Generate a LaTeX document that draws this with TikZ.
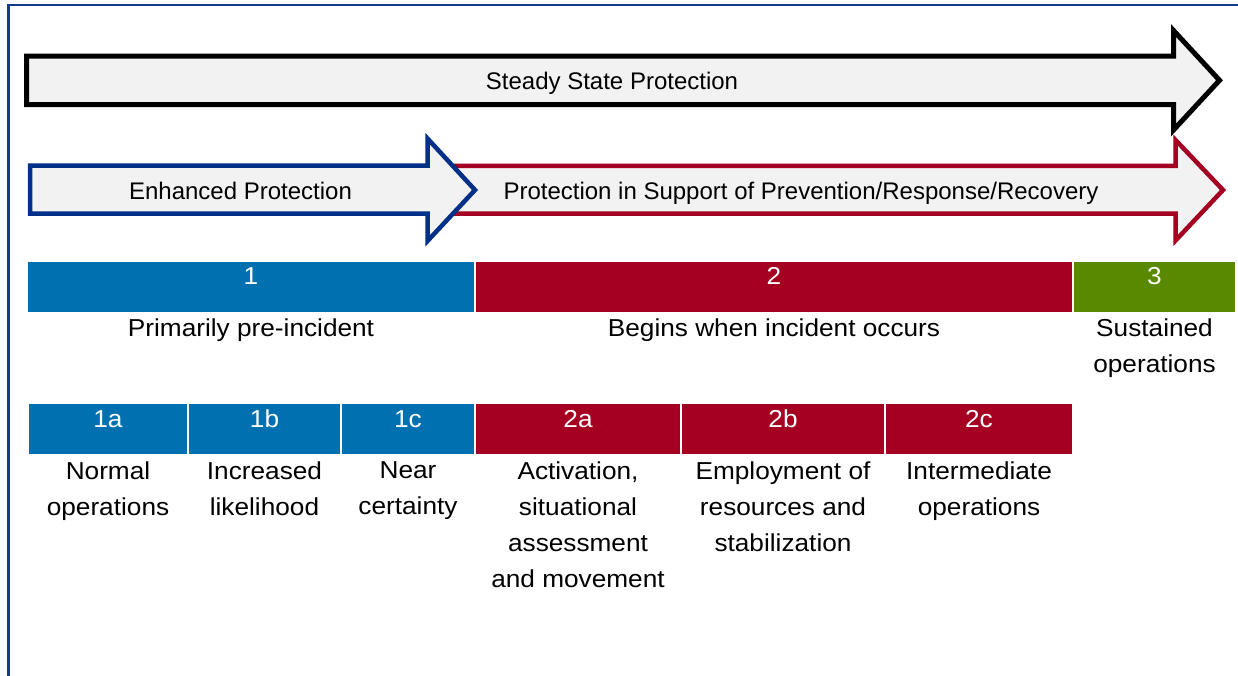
\documentclass[tikz,border=0pt]{standalone}
\usepackage{fontspec}
\setmainfont{Liberation Sans}
\newfontfamily\lblfont[FakeStretch=1.07]{Liberation Sans}
\definecolor{cblue}{RGB}{0,112,176}
\definecolor{cred}{RGB}{165,0,33}
\definecolor{cgreen}{RGB}{88,137,0}
\definecolor{cnavy}{RGB}{0,48,135}
\definecolor{cborder}{RGB}{16,58,140}
\definecolor{cfill}{RGB}{242,242,242}
\tikzset{
  arrowshape/.style={fill=cfill, line join=miter, miter limit=10},
  bar/.style={anchor=north west, inner sep=0pt, minimum height=50pt},
  numtxt/.style={text=white, anchor=base, inner sep=0pt, font=\lblfont\fontsize{24.5}{36}\selectfont},
  lbl/.style={anchor=north, inner sep=0pt, align=center, font=\lblfont\fontsize{24.5}{36}\selectfont},
  arrtxt/.style={anchor=base, inner sep=0pt, font=\fontsize{24}{30}\selectfont},
}
\begin{document}
\begin{tikzpicture}[x=1pt,y=-1pt]
\useasboundingbox (0,0) rectangle (1238,675);
% frame
\draw[cborder, line width=2.6pt] (8.7,676) -- (8.7,5) -- (1239,5);
% steady state arrow
\draw[arrowshape, line width=5pt, draw=black]
  (26.5,56) -- (1173.5,56) -- (1173.5,30.5) -- (1219.5,80.3) -- (1173.5,130) -- (1173.5,104.5) -- (26.5,104.5) -- cycle;
\node[arrtxt] (ss) at (612,89) {Steady State Protection};
% red arrow
\draw[arrowshape, line width=4.5pt, draw=cred]
  (440,165.8) -- (1175.5,165.8) -- (1175.5,140) -- (1223,190) -- (1175.5,240.5) -- (1175.5,213.7) -- (440,213.7) -- cycle;
% blue arrow
\draw[arrowshape, line width=4.5pt, draw=cnavy]
  (30,165.5) -- (427.5,165.5) -- (427.5,138.5) -- (475,190) -- (427.5,241) -- (427.5,213.7) -- (30,213.7) -- cycle;
\node[arrtxt] (ep) at (240.5,199) {Enhanced Protection};
\node[arrtxt] (pr) at (801,199) {Protection in Support of Prevention/Response/Recovery};
% row 1 bars
\node[bar, fill=cblue, minimum width=446pt] (b1) at (28,262) {};
\node[bar, fill=cred, minimum width=596pt] (b2) at (476,262) {};
\node[bar, fill=cgreen, minimum width=161pt] (b3) at (1074,262) {};
\node[numtxt] (n1) at (251,284) {1};
\node[numtxt] (n2) at (774,284) {2};
\node[numtxt] (n3) at (1154.5,284) {3};
\node[lbl] (l1) at (251,318.5) {Primarily pre-incident};
\node[lbl] (l2) at (774,318.5) {Begins when incident occurs};
\node[lbl] (l3) at (1154.5,318.5) {Sustained\\operations};
% row 2 bars
\node[bar, fill=cblue, minimum width=158pt] (b1a) at (29,404) {};
\node[bar, fill=cblue, minimum width=151pt] (b1b) at (189,404) {};
\node[bar, fill=cblue, minimum width=132pt] (b1c) at (342,404) {};
\node[bar, fill=cred, minimum width=204pt] (b2a) at (476,404) {};
\node[bar, fill=cred, minimum width=202pt] (b2b) at (682,404) {};
\node[bar, fill=cred, minimum width=186pt] (b2c) at (886,404) {};
\node[numtxt] (n1a) at (108,427) {1a};
\node[numtxt] (n1b) at (264.5,427) {1b};
\node[numtxt] (n1c) at (408,427) {1c};
\node[numtxt] (n2a) at (578,427) {2a};
\node[numtxt] (n2b) at (783,427) {2b};
\node[numtxt] (n2c) at (979,427) {2c};
\node[lbl] (l1a) at (108,461.5) {Normal\\operations};
\node[lbl] (l1b) at (264.5,461.5) {Increased\\likelihood};
\node[lbl] (l1c) at (408,461.5) {Near\\certainty};
\node[lbl] (l2a) at (578,461.5) {Activation,\\situational\\assessment\\and movement};
\node[lbl] (l2b) at (783,461.5) {Employment of\\resources and\\stabilization};
\node[lbl] (l2c) at (979,461.5) {Intermediate\\operations};
\end{tikzpicture}
\end{document}
